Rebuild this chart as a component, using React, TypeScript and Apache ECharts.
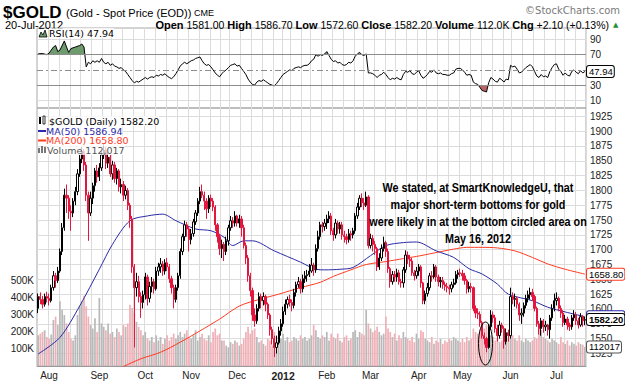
import React, { useEffect, useRef } from 'react';
import * as echarts from 'echarts';

const HOLIDAYS = ['2011-09-05', '2011-11-24', '2011-12-26', '2012-01-02', '2012-01-16', '2012-02-20', '2012-04-06', '2012-05-28', '2012-07-04'];
const MONTHS = ['Jan', 'Feb', 'Mar', 'Apr', 'May', 'Jun', 'Jul', 'Aug', 'Sep', 'Oct', 'Nov', 'Dec'];

function tradingDays(start: string, end: string): string[] {
  const out: string[] = [];
  const d = new Date(start + 'T00:00:00Z');
  const e = new Date(end + 'T00:00:00Z');
  while (d <= e) {
    const wd = d.getUTCDay();
    const s = d.toISOString().slice(0, 10);
    if (wd !== 0 && wd !== 6 && !HOLIDAYS.includes(s)) out.push(s);
    d.setUTCDate(d.getUTCDate() + 1);
  }
  return out;
}
const dates = tradingDays('2011-07-25', '2012-07-20');

// [open, close, low, high]
const candles: number[][] = [
  [1601,1621,1593,1626],[1621,1616,1608,1628],[1616,1608,1601,1622],[1608,1621,1604,1626],[1621,1618,1611,1629],
  [1618,1614,1606,1626],[1614,1636,1611,1641],[1636,1656,1631,1664],[1656,1648,1636,1661],[1648,1664,1644,1671],
  [1664,1697,1661,1702],[1697,1737,1691,1745],[1737,1792,1732,1803],[1792,1787,1762,1810],[1787,1765,1752,1792],
  [1765,1762,1732,1775],[1762,1782,1755,1787],[1782,1798,1775,1806],[1798,1828,1792,1836],[1828,1853,1823,1860],
  [1853,1866,1846,1873],[1866,1843,1833,1870],[1843,1792,1782,1848],[1792,1762,1715,1798],[1762,1787,1757,1798],
  [1787,1808,1777,1813],[1808,1833,1798,1838],[1833,1823,1813,1843],[1823,1838,1816,1846],[1838,1860,1833,1866],
  [1860,1868,1853,1878],[1868,1846,1836,1873],[1846,1856,1838,1864],[1856,1828,1823,1860],[1828,1843,1818,1850],
  [1843,1820,1813,1848],[1820,1833,1810,1838],[1833,1806,1798,1836],[1806,1810,1795,1820],[1810,1792,1782,1816],
  [1792,1800,1785,1808],[1800,1775,1767,1804],[1775,1752,1737,1779],[1752,1671,1661,1757],[1671,1636,1535,1676],
  [1636,1646,1621,1661],[1646,1621,1611,1656],[1621,1611,1585,1628],[1611,1624,1601,1631],[1624,1654,1616,1661],
  [1654,1618,1606,1658],[1618,1638,1611,1646],[1638,1646,1628,1654],[1646,1634,1626,1651],[1634,1664,1631,1671],
  [1664,1671,1656,1678],[1671,1676,1661,1686],[1676,1664,1656,1681],[1664,1678,1658,1684],[1678,1671,1664,1686],
  [1671,1651,1644,1676],[1651,1636,1626,1656],[1636,1616,1601,1641],[1616,1636,1611,1641],[1636,1656,1631,1661],
  [1656,1697,1651,1702],[1697,1722,1691,1727],[1722,1742,1715,1749],[1742,1735,1722,1747],[1735,1717,1697,1739],
  [1717,1727,1709,1735],[1727,1747,1722,1752],[1747,1762,1742,1767],[1762,1782,1757,1787],[1782,1798,1777,1806],
  [1798,1792,1787,1810],[1792,1782,1767,1798],[1782,1769,1752,1787],[1769,1787,1762,1792],[1787,1782,1772,1793],
  [1782,1772,1765,1787],[1772,1742,1732,1775],[1742,1722,1712,1745],[1722,1702,1691,1727],[1702,1709,1686,1717],
  [1709,1697,1681,1713],[1697,1715,1691,1722],[1715,1737,1707,1742],[1737,1749,1732,1757],[1749,1745,1737,1755],
  [1745,1757,1739,1765],[1757,1745,1739,1759],[1745,1752,1737,1759],[1752,1737,1722,1757],[1737,1707,1702,1742],
  [1707,1686,1676,1712],[1686,1656,1646,1691],[1656,1631,1621,1661],[1631,1590,1580,1636],[1590,1580,1570,1601],
  [1580,1601,1575,1608],[1601,1621,1596,1628],[1621,1614,1601,1626],[1614,1621,1606,1628],[1621,1608,1596,1624],
  [1608,1590,1583,1611],[1590,1565,1555,1593],[1565,1550,1540,1570],[1550,1535,1519,1555],[1535,1543,1525,1555],
  [1543,1563,1540,1570],[1563,1575,1555,1583],[1575,1596,1570,1604],[1596,1608,1590,1616],[1608,1616,1601,1621],
  [1616,1611,1604,1624],[1611,1606,1596,1616],[1606,1628,1601,1634],[1628,1641,1621,1646],[1641,1646,1636,1654],
  [1646,1634,1626,1651],[1634,1651,1628,1658],[1651,1656,1644,1664],[1656,1658,1646,1666],[1658,1664,1654,1676],
  [1664,1674,1661,1686],[1674,1666,1656,1678],[1666,1702,1661,1709],[1702,1722,1697,1732],[1722,1742,1717,1747],
  [1742,1739,1729,1747],[1739,1745,1732,1752],[1745,1752,1735,1759],[1752,1757,1745,1765],[1757,1732,1725,1762],
  [1732,1725,1715,1737],[1725,1745,1719,1752],[1745,1735,1727,1749],[1735,1742,1727,1747],[1742,1725,1717,1747],
  [1725,1722,1712,1732],[1722,1717,1709,1727],[1717,1727,1712,1735],[1727,1725,1715,1732],[1725,1732,1719,1737],
  [1732,1757,1727,1762],[1757,1772,1752,1779],[1772,1787,1767,1792],[1787,1779,1772,1795],[1779,1775,1767,1787],
  [1775,1789,1772,1798],[1789,1707,1702,1792],[1707,1719,1702,1727],[1719,1709,1697,1725],[1709,1702,1691,1715],
  [1702,1671,1664,1705],[1671,1686,1666,1694],[1686,1702,1681,1709],[1702,1712,1697,1722],[1712,1697,1688,1715],
  [1697,1668,1661,1702],[1668,1646,1636,1671],[1646,1658,1641,1664],[1658,1654,1646,1664],[1654,1661,1646,1668],
  [1661,1646,1641,1666],[1646,1644,1636,1651],[1644,1666,1636,1671],[1666,1691,1661,1699],[1691,1684,1676,1697],
  [1684,1681,1671,1691],[1681,1661,1656,1686],[1661,1656,1648,1666],[1656,1664,1651,1671],[1664,1671,1656,1676],
  [1671,1644,1636,1674],[1644,1614,1608,1646],[1614,1626,1608,1631],[1626,1636,1621,1644],[1636,1656,1631,1661],
  [1656,1654,1646,1664],[1654,1671,1651,1676],[1671,1654,1646,1674],[1654,1646,1638,1658],[1646,1648,1636,1654],
  [1648,1641,1634,1654],[1641,1638,1631,1646],[1638,1636,1628,1644],[1636,1634,1624,1641],[1634,1641,1628,1646],
  [1641,1644,1636,1651],[1644,1658,1641,1664],[1658,1661,1651,1666],[1661,1660,1654,1668],[1660,1656,1648,1666],
  [1656,1648,1641,1661],[1648,1634,1626,1651],[1634,1638,1628,1646],[1638,1636,1628,1644],[1636,1601,1596,1638],
  [1601,1593,1585,1606],[1593,1591,1583,1601],[1591,1577,1570,1596],[1577,1555,1550,1580],[1555,1550,1540,1560],
  [1550,1535,1527,1553],[1535,1570,1533,1575],[1570,1590,1565,1598],[1590,1585,1577,1596],[1585,1567,1560,1590],
  [1567,1555,1545,1573],[1555,1573,1550,1580],[1573,1567,1560,1577],[1567,1545,1533,1571],[1545,1560,1540,1567],
  [1560,1555,1545,1565],[1555,1621,1550,1636],[1621,1616,1608,1628],[1616,1618,1604,1626],[1618,1608,1601,1621],
  [1608,1590,1580,1611],[1590,1593,1575,1601],[1593,1606,1587,1611],[1606,1618,1601,1624],[1618,1624,1611,1631],
  [1624,1628,1616,1636],[1628,1621,1614,1634],[1621,1601,1596,1624],[1601,1575,1570,1604],[1575,1567,1557,1580],
  [1567,1580,1555,1585],[1580,1570,1560,1583],[1570,1573,1563,1580],[1573,1565,1555,1575],[1565,1585,1550,1590],
  [1585,1601,1580,1608],[1601,1614,1596,1626],[1614,1618,1606,1628],[1618,1601,1596,1621],[1601,1593,1585,1606],
  [1593,1577,1570,1598],[1577,1583,1573,1590],[1583,1573,1565,1587],[1573,1570,1563,1577],[1570,1585,1565,1590],
  [1585,1590,1580,1598],[1590,1580,1573,1595],[1580,1573,1567,1585],[1573,1587,1570,1593],[1587,1580.1,1570,1590],
  [1581,1582.2,1572.6,1586.7],
];

// volume in thousands
const volumesK: number[] = [
  180,190,200,210,170, 160,185,270,290,240, 380,330,300,250,200, 160,150,180,300,350,
  380,413,350,290,240, 220,280,200,400,250, 230,210,250,190,200, 170,220,200,180,240,
  230,250,360,340,310, 260,230,210,180,200, 160,150,170,140,180, 150,170,130,160,180,
  150,170,190,160,180, 200,170,190,210,170, 160,180,210,150,170, 190,160,150,180,140,
  200,220,180,190,150, 150,120,110,140,130, 150,140,120,130,160, 200,230,190,210,220,
  170,140,150,130,120, 160,150,120,200,170, 140,160,190,150,170, 140,150,170,160,150,
  180,160,170,150,160, 180,240,210,170,160, 180,170,200,150,190, 170,160,190,150,140,
  170,180,150,160,200, 210,170,200,190,180, 330,250,220,200,210, 230,200,180,190,290,
  220,200,170,190,150, 180,160,200,170,160, 150,170,140,190,160, 210,200,160,150,140,
  170,130,150,140,160, 130,150,140,160,150, 170,160,150,140,160, 140,170,150,160,220,
  200,190,210,230,220, 240,200,180,170,150, 160,140,150,170,150, 160,230,180,160,150,
  180,150,140,160,150, 140,150,170,160,230, 210,170,160,150,140, 160,150,140,130,170,
  140,130,150,120,140, 130,120,140,130,125, 112.017,
];

// [day index, value]
const ma50: number[][] = [
  [0,1524],[10,1552],[19,1605],[28,1667],[34,1709],[42,1749],[50,1757],[57,1760],[63,1749],[72,1735],
  [79,1732],[85,1721],[89,1707],[94,1715],[98,1715],[108,1698],[120,1679],[127,1667],[131,1666],[138,1667],
  [144,1670],[152,1690],[159,1707],[167,1712],[173,1713],[182,1698],[190,1687],[197,1668],[203,1659],[210,1642],
  [215,1625],[226,1614],[233,1603],[241,1595],[250,1586.94],
];
const ma200: number[][] = [
  [30,1488],[39,1503],[47,1516],[56,1527],[65,1544],[74,1563],[83,1583],[92,1605],[101,1616],[110,1625],
  [120,1636],[129,1645],[135,1655],[143,1666],[150,1675],[159,1680],[167,1685],[175,1690],[183,1696],[190,1701],
  [196,1704],[203,1704],[210,1703],[218,1698],[226,1687],[233,1676],[241,1667],[250,1658.8],
];
const rsi14: number[][] = [
  [0,71],[2,71.5],[4,70],[5,72],[7,80],[8,82],[9,74],[10,76],[12,88],[13,80],[14,73],[15,78],[17,80],[19,82],
  [20,84],[21,80],[22,54],[23,60],[24,58],[25,62],[26,60],[27,62],[28,60],[29,65],[30,60],[31,58],[32,60],
  [33,56],[34,58],[35,55],[36,54],[37,52],[38,53],[39,50],[40,48],[41,44],[42,40],[43,36],[44,33],[45,35],
  [46,34],[47,36],[48,38],[49,40],[50,38],[51,40],[52,41],[53,40],[54,43],[55,42],[56,44],[57,43],[58,45],
  [59,42],[60,40],[61,38.5],[62,41],[63,45],[64,50],[65,55],[66,58],[67,60],[68,58],[69,60],[70,62],[71,63],
  [72,65],[73,66],[74,67],[75,62],[76,58],[77,56],[78,57],[79,54],[80,50],[81,46],[82,43],[83,41],[84,45],
  [85,48],[86,50],[87,53],[88,56],[89,57],[90,58],[91,55],[92,56],[93,52],[94,48],[95,44],[96,38],[97,34],
  [98,31],[99,30],[100,34],[101,36],[102,35],[103,37],[104,35],[105,33],[106,31],[107,30],[108,29],[109,32],
  [110,36],[111,40],[112,44],[113,46],[114,48],[115,50],[116,49],[117,52],[118,53],[119,54],[120,53],[121,55],
  [122,56],[123,56],[124,58],[125,62],[126,64],[127,70],[128,68],[129,70],[130,69],[131,71],[132,74],[133,69],
  [134,64],[135,61],[136,62],[137,59],[138,60],[139,57],[140,56],[141,57],[142,60],[143,59],[144,62],[145,68],
  [146,71],[147,73],[148,70],[149,69],[150,71],[151,46],[152,46],[153,45],[154,43],[155,40],[156,43],[157,44],
  [158,47],[159,44],[160,40],[161,37],[162,39],[163,38],[164,40],[165,38],[166,37],[167,44],[168,48],[169,47],
  [170,49],[171,45],[172,44],[173,47],[174,49],[175,43],[176,39],[177,41],[178,44],[179,48],[180,47],[181,50],
  [182,46],[183,45],[184,46],[185,44],[186,44],[187,43],[188,43],[189,45],[190,46],[191,51],[192,52],[193,52],
  [194,50],[195,47],[196,43],[197,44],[198,43],[199,34],[200,32],[201,31],[202,27],[203,23],[204,22],[205,21],
  [206,33],[207,40],[208,38],[209,35],[210,34],[211,39],[212,37],[213,34],[214,38],[215,37],[216,56],[217,54],
  [218,55],[219,51],[220,46],[221,47],[222,50],[223,53],[224,55],[225,57],[226,54],[227,48],[228,42],[229,40],
  [230,44],[231,41],[232,42],[233,40],[234,48],[235,53],[236,57],[237,58],[238,51],[239,48],[240,43],[241,46],
  [242,43],[243,42],[244,48],[245,50],[246,47],[247,45],[248,49],[249,46],[250,47.94],
];

const priceTicks = [1525, 1550, 1575, 1600, 1625, 1650, 1675, 1700, 1725, 1750, 1775, 1800, 1825, 1850, 1875, 1900, 1925];
const volumeTicksK = [100, 200, 300, 400, 500];
const rsiTicks = [10, 30, 70, 90];

const LAST_CLOSE = 1582.2;
const LAST_MA50 = 1586.94;
const LAST_MA200 = 1658.8;
const LAST_VOLUME_K = 112.017;
const LAST_RSI = 47.94;

const annotation = [
  'We stated, at SmartKnowledgeU, that',
  'major short-term bottoms for gold',
  'were likely in at the bottom circled area on',
  'May 16, 2012',
];

export default function App() {
  const ref = useRef<HTMLDivElement>(null);
  useEffect(() => {
    if (!ref.current) return;
    const chart = echarts.init(ref.current, undefined, { renderer: 'svg' });
    const closes = candles.map((c) => c[1]);
    const dayOf = (s: string) => new Date(s + 'T00:00:00Z').getUTCDay();
    const isWeekStart = dates.map((d, i) => i > 0 && dayOf(d) < dayOf(dates[i - 1]));
    const isMonthStart = dates.map((d, i) => i > 0 && d.slice(5, 7) !== dates[i - 1].slice(5, 7));

    const candleData = candles.map((c, i) => {
      const prev = i > 0 ? closes[i - 1] : c[0];
      const col = c[1] >= prev ? '#000000' : '#e3163e';
      const fill = c[1] > c[0] ? '#ffffff' : col;
      return { value: c, itemStyle: { color: fill, color0: fill, borderColor: col, borderColor0: col, borderWidth: 1 } };
    });
    const volumeData = volumesK.map((v, i) => ({
      value: v,
      itemStyle: { color: i === 0 || closes[i] >= closes[i - 1] ? '#b9b9b9' : '#f0b0b7' },
    }));

    const gridLine = '#dcdcdc';
    const sans = 'Liberation Sans';
    const hidden = { color: 'rgba(0,0,0,0)', width: 0 };
    const markerLabel = (text: string, border: string, bold = false) => ({
      show: true,
      position: 'end',
      distance: 1,
      formatter: text,
      backgroundColor: '#ffffff',
      borderColor: border,
      borderWidth: 1,
      borderRadius: 2,
      padding: [1, 1, 0, 2],
      fontSize: 9.5,
      fontFamily: sans,
      fontWeight: bold ? 'bold' : 'normal',
      color: '#000',
    });

    const option: any = {
      animation: false,
      backgroundColor: '#ffffff',
      grid: [
        { left: 37, right: 39, top: 28, height: 80, show: true, borderColor: '#a8a8a8', borderWidth: 1 },
        { left: 37, right: 39, top: 108, bottom: 14, show: true, borderColor: '#a8a8a8', borderWidth: 1 },
      ],
      xAxis: [
        {
          type: 'category', gridIndex: 0, data: dates, boundaryGap: true,
          axisLine: { show: false }, axisTick: { show: false }, axisLabel: { show: false },
          splitLine: { show: true, interval: (i: number) => isWeekStart[i], lineStyle: { color: gridLine, width: 1 } },
        },
        {
          type: 'category', gridIndex: 1, data: dates, boundaryGap: true,
          axisLine: { show: true, lineStyle: { color: '#999' } }, axisTick: { show: false },
          axisLabel: {
            interval: (i: number) => isMonthStart[i],
            formatter: (v: string) => (v.slice(5, 7) === '01' ? '{b|' + v.slice(0, 4) + '}' : MONTHS[Number(v.slice(5, 7)) - 1]),
            fontSize: 10, color: '#222', margin: 4, fontFamily: sans,
            rich: { b: { fontWeight: 'bold', fontSize: 10.5, fontFamily: sans, color: '#222' } },
          },
          splitLine: { show: true, interval: (i: number) => isWeekStart[i], lineStyle: { color: gridLine, width: 1 } },
        },
      ],
      yAxis: [
        {
          type: 'value', gridIndex: 0, position: 'right', min: 0, max: 105, interval: 10,
          axisLine: { show: false }, axisTick: { show: false }, splitLine: { show: false },
          axisLabel: { formatter: (v: number) => (rsiTicks.includes(v) ? String(v) : ''), fontSize: 10, color: '#222', margin: 4, fontFamily: sans },
        },
        {
          type: 'value', gridIndex: 1, position: 'right', min: 1503.8, max: 1939.1,
          axisLine: { show: false },
          axisTick: { show: false, customValues: priceTicks },
          axisLabel: { customValues: priceTicks, formatter: (v: number) => String(v), fontSize: 10, color: '#222', margin: 4, fontFamily: sans },
          splitLine: { show: true, lineStyle: { color: gridLine, width: 1 } },
        },
        {
          type: 'value', gridIndex: 1, position: 'left', min: 0, max: 1515, interval: 100,
          axisLine: { show: false }, axisTick: { show: false }, splitLine: { show: false },
          axisLabel: { formatter: (v: number) => (volumeTicksK.includes(v) ? v + 'K' : ''), fontSize: 10, color: '#222', margin: 3, fontFamily: sans },
        },
      ],
      visualMap: [
        {
          type: 'piecewise', show: false, seriesIndex: 4, dimension: 1,
          pieces: [
            { gt: 70, color: '#6d9b6d' },
            { gte: 30, lte: 70, color: 'rgba(255,255,255,0)' },
            { lt: 30, color: '#b86464' },
          ],
        },
      ],
      series: [
        {
          type: 'bar', name: 'Volume', xAxisIndex: 1, yAxisIndex: 2, data: volumeData, barCategoryGap: '22%', z: 1,
          markLine: { symbol: 'none', silent: true, lineStyle: hidden, label: markerLabel('112017', '#555'), data: [{ yAxis: LAST_VOLUME_K }] },
        },
        {
          type: 'line', name: 'MA(200)', xAxisIndex: 1, yAxisIndex: 1, data: ma200, showSymbol: false, symbol: 'none', smooth: 0.3,
          lineStyle: { color: '#ff3b1f', width: 1 }, z: 3,
          markLine: { symbol: 'none', silent: true, lineStyle: hidden, label: markerLabel('1658.80', '#ff3b1f'), data: [{ yAxis: LAST_MA200 }] },
        },
        {
          type: 'line', name: 'MA(50)', xAxisIndex: 1, yAxisIndex: 1, data: ma50, showSymbol: false, symbol: 'none', smooth: 0.3,
          lineStyle: { color: '#2a2aa8', width: 1 }, z: 3,
          markLine: { symbol: 'none', silent: true, lineStyle: hidden, label: markerLabel('1586.94', '#2a2aa8'), data: [{ yAxis: LAST_MA50 }] },
        },
        {
          type: 'candlestick', name: '$GOLD', xAxisIndex: 1, yAxisIndex: 1, data: candleData, barWidth: 1.8, z: 4,
          markLine: { symbol: 'none', silent: true, lineStyle: hidden, label: markerLabel('1582.20', '#000', true), data: [{ yAxis: LAST_CLOSE }] },
        },
        {
          type: 'line', name: 'RSI fill', xAxisIndex: 0, yAxisIndex: 0, data: rsi14, showSymbol: false, symbol: 'none',
          lineStyle: { width: 0 }, areaStyle: { origin: 50, opacity: 1 }, z: 2,
          markLine: {
            symbol: 'none', silent: true, label: { show: false },
            data: [
              { yAxis: 90, lineStyle: { color: gridLine, width: 1, type: 'solid' } },
              { yAxis: 10, lineStyle: { color: gridLine, width: 1, type: 'solid' } },
              { yAxis: 70, lineStyle: { color: '#8c8c8c', width: 1, type: 'solid' } },
              { yAxis: 30, lineStyle: { color: '#8c8c8c', width: 1, type: 'solid' } },
              { yAxis: 50, lineStyle: { color: '#8c8c8c', width: 1, type: [6, 3, 2, 3] } },
            ],
          },
        },
        {
          type: 'line', name: 'RSI(14)', xAxisIndex: 0, yAxisIndex: 0, data: rsi14, showSymbol: false, symbol: 'none',
          lineStyle: { color: '#000', width: 1 }, z: 3,
          markLine: { symbol: 'none', silent: true, lineStyle: hidden, label: markerLabel('47.94', '#000'), data: [{ yAxis: LAST_RSI }] },
        },
      ],
      graphic: [
        { type: 'text', x: 3, y: 12, z: 10, style: { text: '$GOLD', font: 'bold 17px "Liberation Sans"', fill: '#000', verticalAlign: 'middle' } },
        { type: 'text', x: 66, y: 13, z: 10, style: { text: '(Gold - Spot Price (EOD))', font: '11px "Liberation Sans"', fill: '#000', verticalAlign: 'middle' } },
        { type: 'text', x: 194, y: 13, z: 10, style: { text: 'CME', font: '9px "Liberation Sans"', fill: '#000', verticalAlign: 'middle' } },
        { type: 'text', x: 620, y: 10, z: 10, style: { text: '\u00A9StockCharts.com', font: '10px "DejaVu Sans"', fill: '#7a7a7a', align: 'right', verticalAlign: 'middle' } },
        { type: 'text', x: 5, y: 25, z: 10, style: { text: '20-Jul-2012', font: '11px "Liberation Sans"', fill: '#000', verticalAlign: 'middle' } },
        {
          type: 'text', x: 609, y: 25, z: 10,
          style: {
            text: '{b|Open} 1581.00 {b|High} 1586.70 {b|Low} 1572.60 {b|Close} 1582.20 {b|Volume} 112.0K {b|Chg} +2.10 (+0.13%)',
            font: '10.5px "Liberation Sans"', fill: '#000', align: 'right', verticalAlign: 'middle',
            rich: { b: { fontWeight: 'bold', fontSize: 11, fontFamily: sans, fill: '#000' } },
          },
        },
        { type: 'text', x: 613, y: 25, z: 10, style: { text: '\u25B2', font: '7px "DejaVu Sans"', fill: '#1f8f2f', verticalAlign: 'middle' } },
        // RSI legend
        { type: 'polygon', z: 10, shape: { points: [[39, 37], [41, 32], [43, 35], [45, 30], [47, 37]] }, style: { fill: '#6d9b6d', stroke: '#000', lineWidth: 0.8 } },
        { type: 'text', x: 49, y: 33, z: 10, style: { text: 'RSI(14) 47.94', font: '9.5px "DejaVu Sans"', fill: '#000', verticalAlign: 'middle', backgroundColor: 'rgba(255,255,255,0.7)' } },
        // main legend
        { type: 'rect', z: 10, shape: { x: 39, y: 117, width: 2, height: 7 }, style: { fill: '#000' } },
        { type: 'rect', z: 10, shape: { x: 43, y: 116, width: 2, height: 8 }, style: { fill: '#fff', stroke: '#000', lineWidth: 0.8 } },
        { type: 'text', x: 49, y: 121, z: 10, style: { text: '$GOLD (Daily) 1582.20', font: '9.5px "DejaVu Sans"', fill: '#000', verticalAlign: 'middle', backgroundColor: 'rgba(255,255,255,0.75)' } },
        { type: 'line', z: 10, shape: { x1: 38, y1: 131, x2: 46, y2: 131 }, style: { stroke: '#2a2aa8', lineWidth: 2 } },
        { type: 'text', x: 46, y: 131, z: 10, style: { text: 'MA(50) 1586.94', font: '9.5px "DejaVu Sans"', fill: '#2a2aa8', verticalAlign: 'middle', backgroundColor: 'rgba(255,255,255,0.75)' } },
        { type: 'line', z: 10, shape: { x1: 38, y1: 140.5, x2: 46, y2: 140.5 }, style: { stroke: '#ff3b1f', lineWidth: 2 } },
        { type: 'text', x: 46, y: 140.5, z: 10, style: { text: 'MA(200) 1658.80', font: '9.5px "DejaVu Sans"', fill: '#ff3b1f', verticalAlign: 'middle', backgroundColor: 'rgba(255,255,255,0.75)' } },
        { type: 'rect', z: 10, shape: { x: 38, y: 148, width: 2, height: 5 }, style: { fill: '#777' } },
        { type: 'rect', z: 10, shape: { x: 41, y: 146, width: 2, height: 7 }, style: { fill: '#777' } },
        { type: 'rect', z: 10, shape: { x: 44, y: 147, width: 2, height: 6 }, style: { fill: '#777' } },
        { type: 'text', x: 47, y: 150, z: 10, style: { text: 'Volume 112,017', font: '9.5px "DejaVu Sans"', fill: '#555', verticalAlign: 'middle', backgroundColor: 'rgba(255,255,255,0.75)' } },
        // annotation
        ...annotation.map((t, k) => ({
          type: 'text', x: 478, y: 187.5 + k * 17, z: 10, scaleX: 0.83,
          style: { text: t, font: 'bold 13px "Liberation Sans"', fill: '#000', align: 'center', verticalAlign: 'middle' },
        })),
        { type: 'ellipse', z: 10, shape: { cx: 485.5, cy: 343.5, rx: 7, ry: 21.5 }, style: { fill: 'none', stroke: '#000', lineWidth: 1 } },
      ],
    };
    chart.setOption(option);
    return () => chart.dispose();
  }, []);
  return <div ref={ref} style={{ position: 'fixed', left: 0, top: 0, width: 625, height: 381, background: '#fff' }} />;
}
